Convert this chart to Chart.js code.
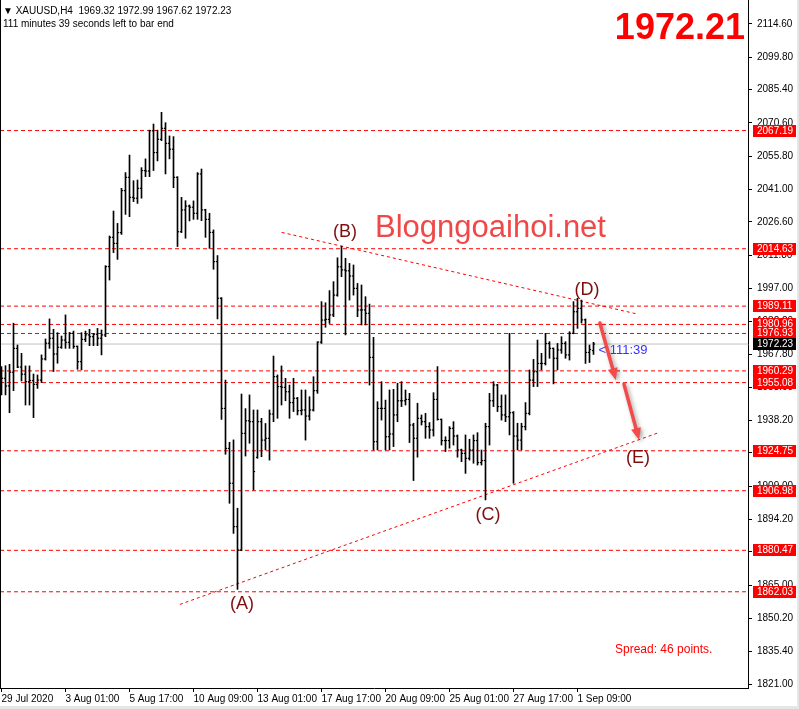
<!DOCTYPE html>
<html lang="en">
<head>
<meta charset="UTF-8">
<title>XAUUSD,H4</title>
<script src="https://cdn.jsdelivr.net/npm/chart.js"></script>
<style>
  html, body { margin: 0; padding: 0; background: #fff; }
  #wrap { width: 799px; height: 709px; }
</style>
</head>
<body>
<div id="wrap"><canvas id="chart" width="799" height="709"></canvas></div>
<script>
// H4 bars, 29 Jul 09:00 .. 2 Sep 01:00 (one entry per bar)
const opens = [
  1955.0, 1957.0, 1953.6, 1959.7, 1970.3, 1962.0, 1958.8, 1955.5, 1956.0, 1954.3,
  1956.2, 1965.6, 1972.6, 1974.8, 1967.8, 1970.8, 1974.0, 1973.0, 1977.0, 1971.2,
  1964.4, 1974.3, 1976.3, 1975.5, 1976.6, 1974.8, 1976.3, 2006.7, 2019.7, 2017.0,
  2021.8, 2040.5, 2046.4, 2037.5, 2037.1, 2041.5, 2049.4, 2049.2, 2067.1, 2057.4,
  2063.3, 2068.2, 2061.5, 2058.9, 2046.4, 2022.2, 2031.9, 2033.6, 2033.1, 2030.4,
  2047.9, 2031.9, 2027.7, 2021.9, 2008.9, 1992.6, 1943.6, 1925.8, 1910.3, 1891.0,
  1880.6, 1932.5, 1938.1, 1937.7, 1921.8, 1937.7, 1929.5, 1930.3, 1941.1, 1957.7,
  1953.3, 1953.0, 1951.0, 1946.2, 1948.1, 1942.6, 1942.9, 1940.2, 1942.9, 1951.5,
  1973.1, 1982.9, 1983.2, 1985.2, 1994.0, 2006.6, 2005.2, 2004.8, 2002.5, 1997.0,
  1987.4, 1987.4, 1985.9, 1966.3, 1928.8, 1943.6, 1943.6, 1931.0, 1932.2, 1940.7,
  1947.0, 1947.0, 1947.6, 1936.2, 1930.3, 1939.2, 1937.7, 1935.5, 1934.0, 1947.6,
  1938.7, 1929.3, 1929.3, 1934.7, 1931.3, 1925.1, 1923.6, 1921.4, 1925.1, 1929.3,
  1919.5, 1920.4, 1935.5, 1947.0, 1954.0, 1944.4, 1940.7, 1939.9, 1941.7, 1931.3,
  1929.5, 1935.5, 1941.4, 1956.2, 1959.9, 1963.6, 1963.6, 1972.5, 1970.3, 1965.9,
  1969.6, 1972.5, 1967.4, 1977.0, 1986.6, 1988.1, 1983.0, 1968.5, 1969.32
];
const highs = [
  1962.2, 1962.6, 1963.2, 1981.5, 1971.8, 1968.1, 1962.5, 1962.5, 1958.9, 1958.5,
  1967.4, 1974.5, 1983.4, 1978.8, 1977.3, 1975.8, 1985.2, 1977.4, 1978.0, 1971.4,
  1977.3, 1978.0, 1978.8, 1977.0, 1979.2, 1978.5, 2007.1, 2020.3, 2031.4, 2025.9,
  2041.5, 2048.5, 2056.3, 2044.9, 2045.2, 2050.7, 2054.6, 2067.4, 2070.1, 2067.4,
  2075.3, 2070.7, 2064.8, 2064.5, 2046.7, 2037.5, 2036.0, 2034.1, 2035.9, 2048.5,
  2050.1, 2032.2, 2030.4, 2023.0, 2011.6, 1992.9, 1956.2, 1928.5, 1929.6, 1899.2,
  1950.0, 1943.5, 1949.6, 1942.9, 1942.9, 1939.2, 1936.9, 1942.9, 1966.9, 1958.5,
  1962.5, 1957.0, 1954.0, 1957.0, 1948.5, 1951.8, 1951.8, 1948.8, 1957.7, 1973.3,
  1991.1, 1990.6, 1996.0, 2000.0, 2010.6, 2015.8, 2010.4, 2008.1, 2007.4, 1999.2,
  1998.5, 1993.3, 1990.0, 1975.2, 1946.6, 1955.5, 1947.3, 1951.8, 1952.1, 1954.8,
  1955.5, 1951.8, 1950.3, 1937.0, 1945.9, 1940.7, 1941.4, 1937.3, 1950.6, 1962.2,
  1938.9, 1931.0, 1935.5, 1937.7, 1931.8, 1925.5, 1931.8, 1929.9, 1931.8, 1932.8,
  1925.1, 1937.0, 1950.3, 1955.5, 1954.3, 1949.6, 1949.6, 1977.0, 1942.2, 1937.0,
  1937.0, 1946.2, 1960.7, 1965.4, 1974.0, 1968.1, 1977.0, 1973.3, 1970.5, 1972.5,
  1975.5, 1973.3, 1977.7, 1991.1, 1992.6, 1991.8, 1983.4, 1971.8, 1972.99
];
const lows = [
  1949.6, 1949.6, 1941.7, 1951.5, 1961.7, 1955.8, 1945.1, 1945.1, 1939.5, 1952.5,
  1955.1, 1965.1, 1970.3, 1960.0, 1963.7, 1970.3, 1970.3, 1970.3, 1970.3, 1961.0,
  1960.7, 1973.3, 1971.5, 1971.5, 1971.5, 1967.4, 1975.5, 2000.7, 2012.9, 2009.9,
  2021.0, 2029.9, 2028.9, 2035.6, 2034.8, 2037.1, 2046.7, 2046.7, 2049.4, 2053.7,
  2062.7, 2047.9, 2054.6, 2041.8, 2015.6, 2021.8, 2019.3, 2027.0, 2027.7, 2027.7,
  2027.1, 2019.7, 2014.8, 2005.5, 1983.4, 1938.7, 1923.2, 1901.4, 1888.0, 1863.1,
  1880.3, 1922.4, 1928.1, 1907.3, 1921.4, 1922.1, 1925.1, 1920.6, 1937.7, 1939.2,
  1945.1, 1947.0, 1939.2, 1942.2, 1940.7, 1940.7, 1929.5, 1938.4, 1942.4, 1950.3,
  1972.5, 1979.7, 1981.4, 1984.4, 1993.5, 2002.2, 1976.3, 1991.8, 1994.0, 1984.4,
  1980.7, 1980.7, 1954.0, 1925.1, 1925.1, 1938.4, 1925.1, 1925.1, 1926.6, 1937.7,
  1944.4, 1945.1, 1928.4, 1911.5, 1921.9, 1936.2, 1930.3, 1930.3, 1931.3, 1938.4,
  1927.3, 1924.4, 1925.9, 1927.3, 1921.9, 1919.9, 1914.7, 1920.6, 1919.2, 1918.4,
  1918.4, 1902.9, 1927.3, 1944.4, 1942.2, 1938.4, 1937.7, 1931.8, 1910.3, 1925.1,
  1925.1, 1934.0, 1940.7, 1953.3, 1953.3, 1960.7, 1962.9, 1965.9, 1954.5, 1960.7,
  1968.1, 1965.9, 1965.1, 1976.8, 1979.2, 1981.6, 1963.6, 1964.0, 1967.62
];
const closes = [
  1957.0, 1953.6, 1959.7, 1970.3, 1962.0, 1958.8, 1955.5, 1956.0, 1954.3, 1956.2,
  1965.6, 1972.6, 1974.8, 1967.8, 1970.8, 1974.0, 1973.0, 1977.0, 1971.2, 1964.4,
  1974.3, 1976.3, 1975.5, 1976.6, 1974.8, 1976.3, 2006.7, 2019.7, 2017.0, 2021.8,
  2040.5, 2046.4, 2037.5, 2037.1, 2041.5, 2049.4, 2049.2, 2067.1, 2057.4, 2063.3,
  2068.2, 2061.5, 2058.9, 2046.4, 2022.2, 2031.9, 2033.6, 2033.1, 2030.4, 2047.9,
  2031.9, 2027.7, 2021.9, 2008.9, 1992.6, 1943.6, 1925.8, 1910.3, 1891.0, 1880.6,
  1932.5, 1938.1, 1937.7, 1915.5, 1937.7, 1929.5, 1930.3, 1941.1, 1957.7, 1953.3,
  1953.0, 1951.0, 1946.2, 1948.1, 1942.6, 1942.9, 1940.2, 1942.9, 1951.5, 1973.1,
  1982.9, 1983.2, 1985.2, 1994.0, 2006.6, 2005.2, 2004.8, 2002.5, 1997.0, 1987.4,
  1987.4, 1985.9, 1966.3, 1928.8, 1943.6, 1943.6, 1931.0, 1932.2, 1940.7, 1947.0,
  1947.0, 1947.6, 1936.2, 1930.3, 1939.2, 1937.7, 1935.5, 1934.0, 1947.6, 1938.7,
  1929.3, 1929.3, 1934.7, 1931.3, 1925.1, 1923.6, 1921.4, 1925.1, 1929.3, 1919.5,
  1920.4, 1935.5, 1947.0, 1954.0, 1944.4, 1940.7, 1939.9, 1941.7, 1931.3, 1929.5,
  1935.5, 1941.4, 1956.2, 1959.9, 1963.6, 1963.6, 1972.5, 1970.3, 1965.9, 1969.6,
  1972.5, 1967.4, 1977.0, 1986.6, 1988.1, 1983.0, 1968.5, 1969.8, 1972.23
];

// bottom axis: bar index -> label
const xTickIdx = [0, 16, 32, 48, 64, 80, 96, 112, 128, 144];
const xTickText = ['29 Jul 2020', '3 Aug 01:00', '5 Aug 17:00', '10 Aug 09:00', '13 Aug 01:00',
  '17 Aug 17:00', '20 Aug 09:00', '25 Aug 01:00', '27 Aug 17:00', '1 Sep 09:00'];

// right axis price ticks
const yTicks = [2114.6, 2099.8, 2085.4, 2070.6, 2055.8, 2041.0, 2026.6, 2011.8, 1997.0, 1982.2,
  1967.8, 1953.0, 1938.2, 1923.8, 1909.0, 1894.2, 1879.8, 1865.0, 1850.2, 1835.4, 1821.0];

// horizontal levels drawn on the chart
const levels = [2067.19, 2014.63, 1989.11, 1980.96, 1976.93, 1960.29, 1955.08, 1924.75, 1906.98, 1880.47, 1862.03];

// trend lines (bar index, price)
const trendLowX = [44.6, 164.1];
const trendLowY = [1856.4, 1932.7];
const trendHighX = [70.05, 158.9];
const trendHighY = [2021.9, 1985.6];

// wave labels
const waveNames = ['(A)', '(B)', '(C)', '(D)', '(E)'];
const waveX = [60.1, 85.9, 121.6, 146.4, 159.1];
const waveY = [1856.6, 2022.1, 1896.2, 1996.3, 1921.5];

// projected path arrows
const arrowFromX = [149.6, 155.6];
const arrowFromY = [1981.6, 1954.5];
const arrowToX = [153.6, 159.4];
const arrowToY = [1956.2, 1929.5];

const FONT = "'Liberation Sans', Arial, sans-serif";
Chart.defaults.font.family = FONT;
Chart.defaults.font.size = 10;
Chart.defaults.color = '#000';

const X_MIN = -0.375, X_MAX = 186.625;
const Y_MIN = 1819.226, Y_MAX = 2125.276;
const last = closes.length - 1;
const bid = closes[last];

const idx = closes.map((_, i) => i);

const datasets = [
  {
    type: 'bar',
    data: idx.map(i => ({ x: i, y: [lows[i], highs[i]] })),
    backgroundColor: '#000',
    borderWidth: 0,
    barThickness: 1,
    order: 0
  },
  {
    type: 'scatter',
    data: idx.map(i => ({ x: i - 0.25, y: opens[i] })),
    pointStyle: 'line',
    pointRadius: 0.6,
    pointHoverRadius: 0,
    pointBorderColor: '#000',
    pointBorderWidth: 1.2,
    order: 0
  },
  {
    type: 'scatter',
    data: idx.map(i => ({ x: i + 0.25, y: closes[i] })),
    pointStyle: 'line',
    pointRadius: 0.6,
    pointHoverRadius: 0,
    pointBorderColor: '#000',
    pointBorderWidth: 1.2,
    order: 0
  },
  {
    type: 'line',
    data: [{ x: X_MIN, y: bid }, { x: X_MAX, y: bid }],
    borderColor: '#c0c0c0',
    borderWidth: 1,
    pointRadius: 0,
    order: 3
  },
  {
    type: 'line',
    data: trendLowX.map((v, k) => ({ x: v, y: trendLowY[k] })),
    borderColor: '#ff0000',
    borderWidth: 1,
    borderDash: [3, 3],
    pointRadius: 0,
    order: 2
  },
  {
    type: 'line',
    data: trendHighX.map((v, k) => ({ x: v, y: trendHighY[k] })),
    borderColor: '#ff0000',
    borderWidth: 1,
    borderDash: [3, 3],
    pointRadius: 0,
    order: 2
  }
];

levels.forEach(p => {
  datasets.push({
    type: 'line',
    data: [{ x: X_MIN, y: p }, { x: X_MAX, y: p }],
    borderColor: '#ff0000',
    borderWidth: 1,
    borderDash: [4, 3],
    pointRadius: 0,
    order: 2
  });
});

function drawArrow(ctx, x1, y1, x2, y2) {
  const ang = Math.atan2(y2 - y1, x2 - x1);
  const head = 12, half = 5;
  const bx = x2 - Math.cos(ang) * head, by = y2 - Math.sin(ang) * head;
  ctx.beginPath();
  ctx.moveTo(x1, y1);
  ctx.lineTo(bx, by);
  ctx.stroke();
  ctx.beginPath();
  ctx.moveTo(x2, y2);
  ctx.lineTo(bx + Math.sin(ang) * half, by - Math.cos(ang) * half);
  ctx.lineTo(bx - Math.sin(ang) * half, by + Math.cos(ang) * half);
  ctx.closePath();
  ctx.fill();
}

const overlay = {
  id: 'overlay',
  beforeDraw(chart) {
    const ctx = chart.ctx;
    ctx.save();
    ctx.fillStyle = '#fff';
    ctx.fillRect(0, 0, chart.width, chart.height);
    ctx.restore();
  },
  afterDatasetsDraw(chart) {
    const { ctx, scales: { x, y } } = chart;
    ctx.save();

    // watermark
    ctx.font = '31px ' + FONT;
    ctx.fillStyle = '#f04848';
    ctx.textAlign = 'left';
    ctx.textBaseline = 'alphabetic';
    ctx.fillText('Blogngoaihoi.net', 375, 237);

    // arrows
    ctx.strokeStyle = '#f44a4a';
    ctx.fillStyle = '#f44a4a';
    ctx.lineWidth = 3.5;
    ctx.lineCap = 'round';
    ctx.shadowColor = 'rgba(0,0,0,0.35)';
    ctx.shadowBlur = 4;
    ctx.shadowOffsetX = 2;
    ctx.shadowOffsetY = 2;
    arrowFromX.forEach((v, k) => {
      drawArrow(ctx, x.getPixelForValue(v), y.getPixelForValue(arrowFromY[k]),
        x.getPixelForValue(arrowToX[k]), y.getPixelForValue(arrowToY[k]));
    });
    ctx.shadowColor = 'transparent';

    // wave labels
    ctx.font = '18px ' + FONT;
    ctx.fillStyle = '#7d0f0f';
    ctx.textAlign = 'center';
    ctx.textBaseline = 'middle';
    waveNames.forEach((t, k) => {
      ctx.fillText(t, x.getPixelForValue(waveX[k]), y.getPixelForValue(waveY[k]));
    });

    // countdown next to the bid line
    ctx.font = '13px ' + FONT;
    ctx.fillStyle = '#3333ff';
    ctx.textAlign = 'left';
    ctx.textBaseline = 'middle';
    ctx.fillText('< 111:39', x.getPixelForValue(last) + 5, y.getPixelForValue(bid) + 6);
    ctx.restore();
  },
  afterDraw(chart) {
    const { ctx, scales: { x, y }, chartArea: a } = chart;
    ctx.save();

    // left frame
    ctx.fillStyle = '#000';
    ctx.fillRect(a.left, a.top, 1, a.bottom - a.top);

    // level price labels on the axis
    ctx.font = '10px ' + FONT;
    ctx.textAlign = 'left';
    ctx.textBaseline = 'middle';
    levels.forEach(p => {
      const py = Math.round(y.getPixelForValue(p));
      ctx.fillStyle = '#ff0000';
      ctx.fillRect(a.right + 5, py - 6, 43, 12);
      ctx.fillStyle = '#fff';
      ctx.fillText(p.toFixed(2), a.right + 9, py + 0.5);
    });
    const by = Math.round(y.getPixelForValue(bid));
    ctx.fillStyle = '#000';
    ctx.fillRect(a.right + 5, by - 6, 43, 12);
    ctx.fillStyle = '#fff';
    ctx.fillText(bid.toFixed(2), a.right + 9, by + 0.5);

    // header
    ctx.fillStyle = '#000';
    ctx.textBaseline = 'alphabetic';
    ctx.fillText('\u25BC XAUUSD,H4  ' + [opens[last], highs[last], lows[last], closes[last]]
      .map(v => v.toFixed(2)).join(' '), 3, 14);
    ctx.fillText('111 minutes 39 seconds left to bar end', 3, 27);

    // big price
    ctx.font = 'bold 36px ' + FONT;
    ctx.fillStyle = '#ff0000';
    ctx.textAlign = 'right';
    ctx.fillText('1972.21', 745, 39);

    // spread
    ctx.font = '12px ' + FONT;
    ctx.textAlign = 'left';
    ctx.fillText('Spread: 46 points.', 615, 653);

    // window edge
    ctx.fillStyle = '#e6e6e6';
    ctx.fillRect(0, chart.height - 3, chart.width, 3);
    ctx.fillRect(chart.width - 2, 0, 2, chart.height);
    ctx.restore();
  }
};

new Chart(document.getElementById('chart'), {
  type: 'scatter',
  data: { datasets },
  options: {
    responsive: false,
    animation: false,
    devicePixelRatio: 1,
    events: [],
    layout: { padding: 0, autoPadding: false },
    plugins: { legend: { display: false }, tooltip: { enabled: false } },
    scales: {
      x: {
        type: 'linear',
        position: 'bottom',
        min: X_MIN,
        max: X_MAX,
        offset: false,
        afterBuildTicks: s => { s.ticks = xTickIdx.map(v => ({ value: v })); },
        afterFit: s => { s.height = 21; s.paddingLeft = 0; s.paddingRight = 0; },
        ticks: {
          autoSkip: false,
          maxRotation: 0,
          align: 'start',
          padding: 1,
          color: '#000',
          font: { size: 10 },
          callback: v => xTickText[xTickIdx.indexOf(v)]
        },
        grid: { drawOnChartArea: false, drawTicks: true, tickLength: 4, color: '#000', offset: false },
        border: { display: true, color: '#000', width: 1 }
      },
      y: {
        type: 'linear',
        position: 'right',
        min: Y_MIN,
        max: Y_MAX,
        afterBuildTicks: s => { s.ticks = yTicks.map(v => ({ value: v })); },
        afterFit: s => { s.width = 51; s.paddingTop = 0; s.paddingBottom = 0; },
        ticks: {
          padding: 5,
          color: '#000',
          font: { size: 10 },
          callback: v => v.toFixed(2)
        },
        grid: { drawOnChartArea: false, drawTicks: true, tickLength: 4, color: '#000' },
        border: { display: true, color: '#000', width: 1 }
      }
    }
  },
  plugins: [overlay]
});
</script>
</body>
</html>
